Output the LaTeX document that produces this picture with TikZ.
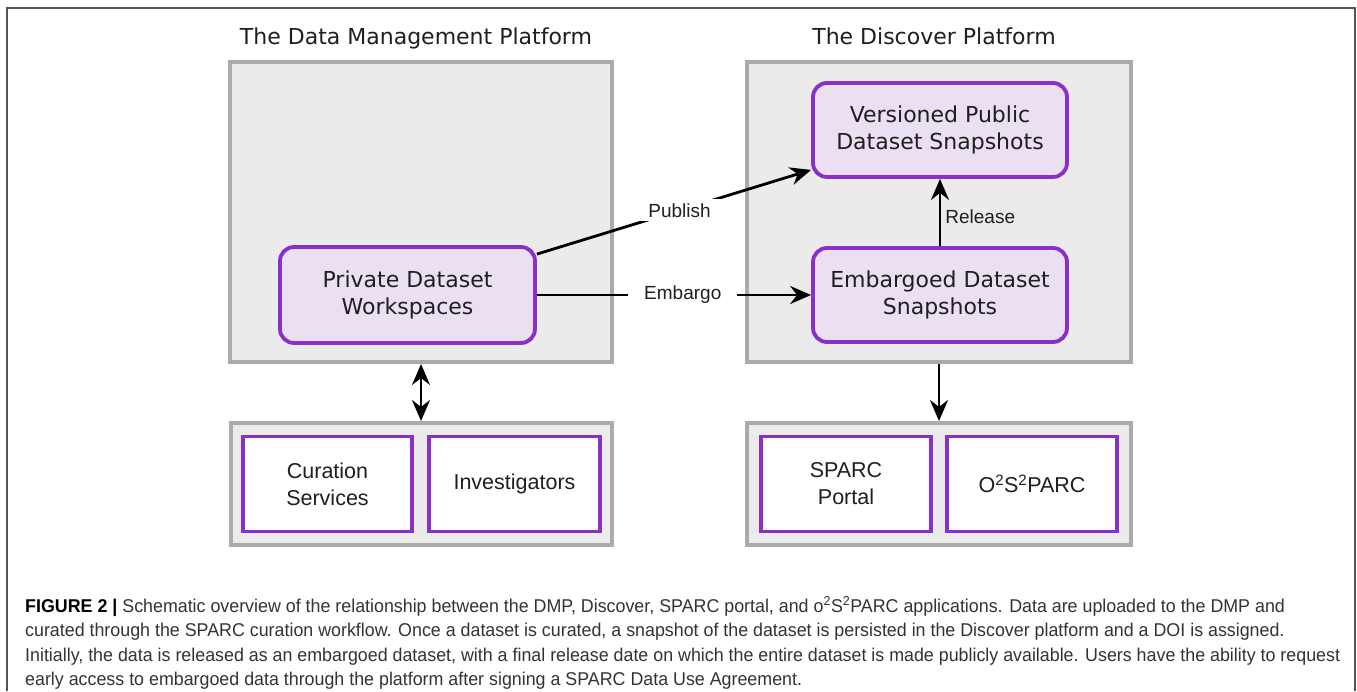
\documentclass[tikz,border=0pt]{standalone}
\usepackage{fontspec}
\setmainfont{Liberation Sans}
\newfontfamily\dejavu{DejaVu Sans}
\usetikzlibrary{arrows.meta}
\definecolor{boxgray}{HTML}{EBEBEB}
\definecolor{boxline}{HTML}{ABABAB}
\definecolor{purp}{HTML}{8B2FC9}
\definecolor{lav}{HTML}{EBDFF2}
\definecolor{framecol}{HTML}{555555}
\definecolor{captxt}{HTML}{333333}
\newsavebox\capmeasure
\tikzset{
  platform/.style={draw=boxline, fill=boxgray, line width=4pt, inner sep=0pt},
  roundbox/.style={draw=purp, fill=lav, line width=3.8pt, rounded corners=14pt, align=center,
    inner sep=0pt, minimum width=254pt, minimum height=94pt,
    font=\dejavu\fontsize{22}{27}\selectfont, text=black!88},
  appbox/.style={draw=purp, fill=white, line width=3.8pt, align=center, inner sep=0pt,
    minimum width=170pt, minimum height=95pt, font=\fontsize{21.5}{27}\selectfont, text=black!88},
  ptitle/.style={font=\dejavu\fontsize{22}{27}\selectfont, text=black!88, anchor=base, inner sep=0pt},
  tip/.style={Stealth[length=21pt,width=18pt,inset=7pt]},
  conn/.style={line width=2.8pt, -{Stealth[length=21pt,width=18pt,inset=7pt]}},
  dconn/.style={line width=2.8pt, {Stealth[length=21pt,width=18pt,inset=7pt]}-{Stealth[length=21pt,width=18pt,inset=7pt]}},
  elabel/.style={font=\fontsize{19}{22}\selectfont, text=black!88},
  capline/.style={anchor=base west, inner sep=0pt, text=captxt},
}
\begin{document}
\sbox\capmeasure{\fontsize{18.5}{24.5}\selectfont Initially, the data is released as an embargoed dataset, with a final release date on which the entire dataset is made publicly available. Users have the ability to request}%
\pgfmathsetmacro\capscale{1315/\the\wd\capmeasure}%
\begin{tikzpicture}[x=1pt,y=-1pt]
\useasboundingbox (0,0) rectangle (1357,691);
\fill[white] (0,0) rectangle (1357,691);
% outer frame
\draw[framecol, line width=2pt] (7,691) -- (7,8) -- (1355,8) -- (1355,691);

% titles
\node[ptitle] (t1) at (416,44) {The Data Management Platform};
\node[ptitle] (t2) at (934,44) {The Discover Platform};

% platform boxes
\node[platform, minimum width=382pt, minimum height=300pt] (dmp) at (421,212) {};
\node[platform, minimum width=384pt, minimum height=300pt] (disc) at (939,212) {};
\node[platform, minimum width=381pt, minimum height=122pt] (bl) at (421,484) {};
\node[platform, minimum width=384pt, minimum height=122pt] (br) at (939,484) {};

% rounded boxes
\node[roundbox, minimum width=255pt, minimum height=96pt] (priv) at (407.5,295) {Private Dataset\\Workspaces};
\node[roundbox] (vers) at (940,130) {Versioned Public\\Dataset Snapshots};
\node[roundbox] (emb) at (940,295) {Embargoed Dataset\\Snapshots};

% application boxes
\node[appbox, minimum width=169pt] (cur) at (327.5,484) {Curation\\Services};
\node[appbox, minimum width=171pt] (inv) at (514.5,484) {Investigators};
\node[appbox] (spa) at (846,484) {SPARC\\Portal};
\node[appbox] (osp) at (1032,484) {O\textsuperscript{2}S\textsuperscript{2}PARC};

% connectors
\draw[conn] ([yshift=-9pt]priv.north east) -- ([yshift=9pt]vers.south west)
  node[elabel, pos=0.52, fill=white, inner xsep=16pt, inner ysep=4pt] {Publish};
\draw[conn] (priv.east) -- (emb.west)
  node[elabel, pos=0.532, fill=white, inner xsep=16pt, inner ysep=4pt] {Embargo};
\draw[conn] (emb.north) -- (vers.south)
  node[elabel, pos=0.44, anchor=west, inner sep=4pt] {Release};
\draw[conn] (disc.south) -- (br.north);
\draw[dconn] (dmp.south) -- (bl.north);

% caption
\node[capline] (c1) at (25,612) {\fontsize{18.5}{24.5}\selectfont\scalebox{\capscale}[1]{\textcolor{black}{\textbf{FIGURE 2 |}} Schematic overview of the relationship between the DMP, Discover, SPARC portal, and o\textsuperscript{2}S\textsuperscript{2}PARC applications. Data are uploaded to the DMP and}};
\node[capline] (c2) at (25,636.5) {\fontsize{18.5}{24.5}\selectfont\scalebox{\capscale}[1]{curated through the SPARC curation workflow. Once a dataset is curated, a snapshot of the dataset is persisted in the Discover platform and a DOI is assigned.}};
\node[capline] (c3) at (25,661) {\fontsize{18.5}{24.5}\selectfont\scalebox{\capscale}[1]{Initially, the data is released as an embargoed dataset, with a final release date on which the entire dataset is made publicly available. Users have the ability to request}};
\node[capline] (c4) at (25,685.5) {\fontsize{18.5}{24.5}\selectfont\scalebox{\capscale}[1]{early access to embargoed data through the platform after signing a SPARC Data Use Agreement.}};
\end{tikzpicture}
\end{document}
